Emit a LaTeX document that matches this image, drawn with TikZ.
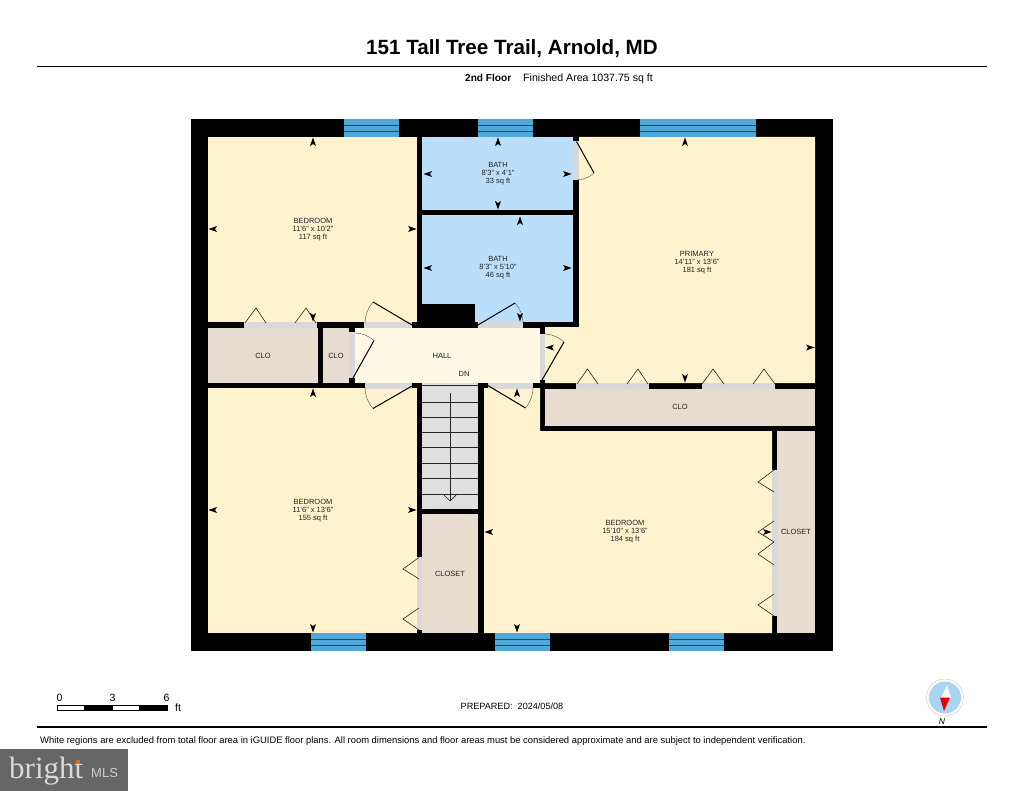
\documentclass[tikz,border=0pt]{standalone}
\usepackage{fontspec}
\setmainfont{Liberation Sans}
\newfontfamily\logoserif{Liberation Serif}
\definecolor{bedcol}{HTML}{FFF2CE}
\definecolor{bathcol}{HTML}{BBDFFB}
\definecolor{clocol}{HTML}{E6DDD0}
\definecolor{hallcol}{HTML}{FFF8E4}
\definecolor{staircol}{HTML}{E0E0E0}
\definecolor{opencol}{HTML}{D9D9D9}
\definecolor{wincol}{HTML}{4FA8D8}
\definecolor{logocol}{HTML}{666666}
\definecolor{inktext}{HTML}{222222}
\definecolor{compassblue}{HTML}{A9D5F2}
\tikzset{
  room/.style={inner sep=0pt,align=center,font=\fontsize{7.5}{8}\selectfont,text=inktext},
  clolabel/.style={inner sep=0pt,font=\fontsize{7.5}{8}\selectfont,text=inktext},
  leaf/.style={draw=black,line width=1pt},
  swing/.style={draw=black!70,line width=0.4pt},
  fold/.style={draw=black!85,line width=0.6pt},
  tread/.style={draw=black!85,line width=0.7pt},
  rule/.style={draw=black,line width=1.6pt},
  foot/.style={inner sep=0pt,anchor=base,text=black},
  dimtip/.pic={\fill[black] (4.5,0)--(-4,3)--(-2,0)--(-4,-3)--cycle;},
}
\begin{document}
\begin{tikzpicture}[x=1pt,y=-1pt]
\useasboundingbox[fill=white] (0,0) rectangle (1024,791);
% headings
\node[foot,font=\bfseries\fontsize{20.6}{22}\selectfont] (title) at (512,55) {151 Tall Tree Trail, Arnold, MD};
\coordinate (ruleTL) at (37,66.5); \coordinate (ruleTR) at (987,66.5);
\draw[rule] (ruleTL) -- (ruleTR);
\node[foot,anchor=base west,font=\bfseries\fontsize{10.1}{11}\selectfont] (floor) at (465,82) {2nd Floor};
\node[foot,anchor=base west,font=\fontsize{10.6}{11}\selectfont] (area) at (523,82) {Finished Area 1037.75 sq ft};
% shell
\fill[black] (191,119) rectangle (833,651);
% rooms
\fill[bedcol] (208,137) rectangle (417,322);
\fill[bedcol] (208,388) rectangle (417,633);
\fill[bedcol] (579,137) -- (815,137) -- (815,383) -- (545,383) -- (545,327) -- (579,327) -- cycle;
\fill[bedcol] (484,388) -- (540,388) -- (540,431) -- (772,431) -- (772,633) -- (484,633) -- cycle;
\fill[bathcol] (422,137) rectangle (573,210.5);
\fill[bathcol] (422,215.5) rectangle (573,322);
\fill[black] (422,304) rectangle (475,322);
\fill[clocol] (208,328) rectangle (318,383);
\fill[clocol] (323,328) rectangle (349,383);
\fill[clocol] (545,388.5) rectangle (815,426);
\fill[clocol] (777,431) rectangle (815,633);
\fill[clocol] (422,513.5) rectangle (478,633);
\fill[hallcol] (355,327.5) rectangle (540,383);
\fill[black] (349,327.5) rectangle (355,332);
\fill[black] (349,378) rectangle (355,383);
% stairs
\fill[staircol] (422,383) rectangle (478,508.5);
\foreach \ty in {385.5,402,417,432,447.5,463,478,494}
  \draw[tread] (422,\ty) -- (478,\ty);
\draw[tread] (450,393) -- (450,501);
\draw[tread] (444,495) -- (450,501) -- (456,495);
% openings
\foreach \xa/\ya/\xb/\yb in {
  244/322/317/328, 364/322/412/328, 478/322/523/328,
  365/383/412/388.5, 488/383/533/388.5,
  576/383/649/388.5, 702/383/775/388.5,
  349/332/355/378, 540/334/545/380, 573/141/579/180,
  417/557/422/630, 772/470/777/616}
  \fill[opencol] (\xa,\ya) rectangle (\xb,\yb);
% windows
\foreach \xa/\xb/\ya/\yb in {344/399/119/137, 478/533/119/137, 640/756/119/137,
  311/366/633/651, 495/550/633/651, 669/724/633/651}{
  \fill[wincol] (\xa,\ya) rectangle (\xb,\yb);
  \draw[black!75,line width=0.6pt] (\xa,\ya+6) -- (\xb,\ya+6) (\xa,\ya+12) -- (\xb,\ya+12);
}
% swing doors
\draw[leaf] (412,325) -- (373,302); \draw[swing] (373,302) to[bend right=18] (365,323);
\draw[leaf] (353,378) -- (374,340.5); \draw[swing] (374,340.5) to[bend right=18] (355,333);
\draw[leaf] (412,386) -- (373,408.5); \draw[swing] (373,408.5) to[bend left=18] (365,388);
\draw[leaf] (478,325) -- (515,303); \draw[swing] (515,303) to[bend left=18] (523,323);
\draw[leaf] (542,380) -- (564,342); \draw[swing] (564,342) to[bend right=18] (545,334);
\draw[leaf] (487,385) -- (525.5,408); \draw[swing] (525.5,408) to[bend right=18] (533,388);
\draw[leaf] (576.5,141.5) -- (594,173); \draw[swing] (594,173) to[bend left=18] (577,180);
% bifold closet doors
\foreach \a/\b/\c in {245/256/266, 295/306/316}
  \draw[fold] (\a,323) -- (\b,308) -- (\c,323);
\foreach \a/\b/\c in {577/587.5/598, 627/638/648, 702/713/724, 753/764/775}
  \draw[fold] (\a,384) -- (\b,369) -- (\c,384);
\foreach \a/\b/\c in {557.5/569/579, 608/619/630}
  \draw[fold] (419,\a) -- (403,\b) -- (419,\c);
\foreach \a/\b/\c in {470/482/492, 521/532/542, 542/554/565, 594/605/616}
  \draw[fold] (774,\a) -- (758,\b) -- (774,\c);
% dimension marks
\foreach \x/\y/\r in {
  313/142/90, 313/317/270, 213/229/180, 412/229/0,
  498/142/90, 498/205/270, 428/174/180, 567/174/0,
  520/221/90, 520/317/270, 428/268/180, 567/268/0,
  685/142/90, 685/378/270, 550/347.5/180, 810/347.5/0,
  313/393/90, 313/628/270, 213/510/180, 412/510/0,
  517/393/90, 517/628/270, 489/532/180, 767/532/0}
  \pic[shift={(\x,\y)},rotate=\r] {dimtip};
% room labels
\node[room] (bedTL) at (313,229.5) {BEDROOM\\11'6" x 10'2"\\117 sq ft};
\node[room] (bedBL) at (313,510.5) {BEDROOM\\11'6" x 13'6"\\155 sq ft};
\node[room] (bedBR) at (625,531.5) {BEDROOM\\15'10" x 13'6"\\184 sq ft};
\node[room] (prim) at (697,263) {PRIMARY\\14'11" x 13'6"\\181 sq ft};
\node[room] (bathA) at (498,174) {BATH\\8'3" x 4'1"\\33 sq ft};
\node[room] (bathB) at (498,268) {BATH\\8'3" x 5'10"\\46 sq ft};
\node[clolabel] (cloA) at (263,355.5) {CLO};
\node[clolabel] (cloB) at (336,355.5) {CLO};
\node[clolabel] (cloC) at (680,407) {CLO};
\node[clolabel] (closetA) at (450,573.5) {CLOSET};
\node[clolabel] (closetB) at (796,532) {CLOSET};
\node[clolabel] (hall) at (442,356) {HALL};
\node[clolabel] (dn) at (464,374) {DN};
% scale bar
\foreach \xa/\xb/\c in {57/84.5/white, 84.5/112/black, 112/139.5/white, 139.5/167/black}
  \fill[draw=black,line width=0.4pt,fill=\c] (\xa,705.5) rectangle (\xb,710);
\node[foot,font=\fontsize{10.5}{11}\selectfont] (s0) at (59.5,701) {0};
\node[foot,font=\fontsize{10.5}{11}\selectfont] (s3) at (112.5,701) {3};
\node[foot,font=\fontsize{10.5}{11}\selectfont] (s6) at (166.5,701) {6};
\node[foot,font=\fontsize{10.5}{11}\selectfont] (sft) at (178,711.5) {ft};
\node[foot,font=\fontsize{9.1}{10}\selectfont] (prep) at (512,709) {PREPARED:\ \ 2024/05/08};
% compass
\coordinate (cmp) at (945,697.5);
\draw[draw=brown!50,line width=0.4pt,fill=white] (cmp) circle (18.5);
\fill[compassblue] (cmp) circle (16);
\fill[white] (947,685) -- (941,698) -- (951,698) -- cycle;
\fill[red!90!black] (940,697.5) -- (950,697.5) -- (944,711) -- cycle;
\node[foot,font=\itshape\fontsize{8.5}{9}\selectfont] (north) at (942,724) {N};
% footer
\coordinate (ruleBL) at (37,727); \coordinate (ruleBR) at (987,727);
\draw[rule] (ruleBL) -- (ruleBR);
\node[foot,anchor=base west,font=\fontsize{9.4}{10}\selectfont] (note) at (40,743.5) {White regions are excluded from total floor area in iGUIDE floor plans. All room dimensions and floor areas must be considered approximate and are subject to independent verification.};
% logo
\fill[logocol] (0,749) rectangle (128,791);
\node[foot,anchor=base west,text=white!85!black,font=\logoserif\fontsize{31}{32}\selectfont] (bright) at (9,778) {bright};
\fill[orange!80!red] (78,762) circle (2);
\node[foot,anchor=base west,text=white!80!black,font=\fontsize{13}{14}\selectfont] (mls) at (91,777) {MLS};
\end{tikzpicture}
\end{document}
